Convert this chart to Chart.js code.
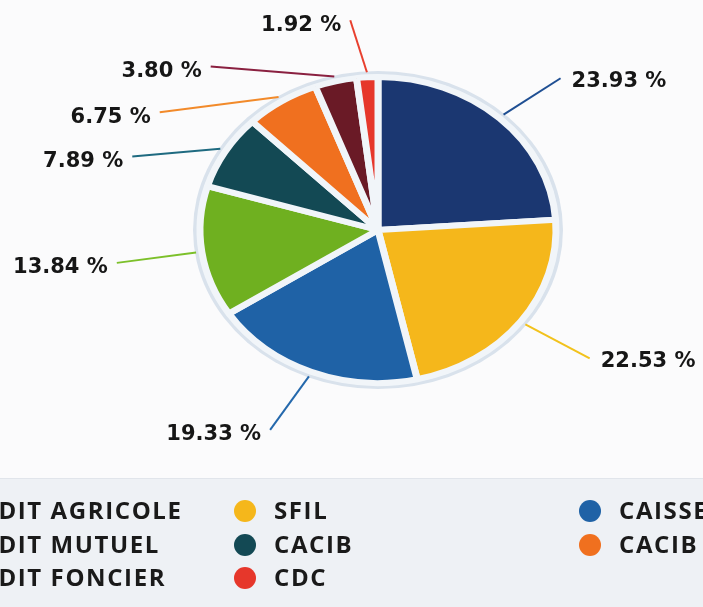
<!DOCTYPE html>
<html><head><meta charset="utf-8">
<script src="https://cdn.jsdelivr.net/npm/chart.js@4"></script>
<style>
html,body{margin:0;padding:0;background:#fbfbfc;}
#wrap{position:relative;width:703px;height:607px;overflow:hidden;background:#fbfbfc;}
#panel{position:absolute;left:0;top:478px;width:703px;height:129px;background:#eef1f5;border-top:1px solid #e1e5eb;}
canvas{position:absolute;left:0;top:0;}
.lg{position:absolute;font-family:"Open Sans";font-weight:700;font-size:24px;letter-spacing:1.6px;color:#1a1a1a;white-space:nowrap;line-height:1;}
.dot{position:absolute;width:22px;height:22px;border-radius:50%;}
</style></head><body>
<div id="wrap"><div id="panel"></div><canvas id="c" width="703" height="607"></canvas><div id="legend"></div></div>
<script>
// ---- data ----
const categories = ["CRÉDIT AGRICOLE", "SFIL", "CAISSE D'EPARGNE", "CRÉDIT MUTUEL", "CACIB", "CACIB", "CRÉDIT FONCIER", "CDC"];
const shares = [23.93, 22.53, 19.33, 13.84, 7.89, 6.75, 3.80, 1.92];
const valueLabels = shares.map(v => v.toFixed(2) + " %");

// ---- styles ----
const colors = ["#1b3771", "#f5b71b", "#1f62a6", "#6fb020", "#134954", "#f0701f", "#6a1a26", "#e6372b"];
const lineColors = ["#1f4f93", "#f2c21c", "#2468ac", "#7cc02a", "#1e6a80", "#f28a2a", "#8a2040", "#e8402f"];
// leader-line layout: offset of the label anchor from the slice edge, and text side
const labelLayout = [
  {dx: 61, dy: -40, side: "right"},
  {dx: 69, dy: 37, side: "right"},
  {dx: -41, dy: 58, side: "left"},
  {dx: -85, dy: 11, side: "left"},
  {dx: -93, dy: 5, side: "left"},
  {dx: -122, dy: 11, side: "left"},
  {dx: -125, dy: -15, side: "left"},
  {dx: -17, dy: -57, side: "left"}
];
const RADIUS = 153, STRETCH = 178 / 153;

const stretchPlugin = {
  id: "stretch",
  beforeDatasetsDraw(chart) {
    const arc = chart.getDatasetMeta(0).data[0];
    const p = arc.getProps(["x", "y", "outerRadius"], true);
    const ctx = chart.ctx;
    ctx.save();
    ctx.translate(p.x, p.y); ctx.scale(STRETCH, 1); ctx.translate(-p.x, -p.y);
    ctx.beginPath(); ctx.arc(p.x, p.y, p.outerRadius + 6, 0, Math.PI * 2);
    ctx.fillStyle = "#d9e2ec"; ctx.fill();
    ctx.beginPath(); ctx.arc(p.x, p.y, p.outerRadius + 2.5, 0, Math.PI * 2);
    ctx.fillStyle = "#edf2f7"; ctx.fill();
  },
  afterDatasetsDraw(chart) { chart.ctx.restore(); }
};

const labelPlugin = {
  id: "vlabels",
  afterDraw(chart) {
    const ctx = chart.ctx;
    chart.getDatasetMeta(0).data.forEach((arc, i) => {
      const p = arc.getProps(["x", "y", "startAngle", "endAngle", "outerRadius"], true);
      const a = (p.startAngle + p.endAngle) / 2;
      const L = labelLayout[i];
      const bx = p.x + Math.cos(a) * p.outerRadius * STRETCH;
      const by = p.y + Math.sin(a) * p.outerRadius;
      const gx = p.x + Math.cos(a) * (p.outerRadius + 5) * STRETCH;
      const gy = p.y + Math.sin(a) * (p.outerRadius + 5);
      const ex = bx + L.dx, ey = by + L.dy;
      ctx.save();
      ctx.strokeStyle = lineColors[i]; ctx.lineWidth = 2;
      ctx.beginPath(); ctx.moveTo(gx, gy); ctx.lineTo(ex, ey); ctx.stroke();
      ctx.font = "bold 21px 'DejaVu Sans'";
      ctx.fillStyle = "#161616";
      ctx.textBaseline = "middle";
      if (L.side === "right") { ctx.textAlign = "left"; ctx.fillText(valueLabels[i], ex + 11, ey + 3); }
      else { ctx.textAlign = "right"; ctx.fillText(valueLabels[i], ex - 9, ey + 5); }
      ctx.restore();
    });
  }
};

new Chart(document.getElementById("c"), {
  type: "pie",
  data: {
    labels: categories,
    datasets: [{
      data: shares,
      backgroundColor: colors,
      borderColor: "#f1f5f9",
      borderWidth: 6,
      clip: false
    }]
  },
  options: {
    responsive: false,
    animation: false,
    devicePixelRatio: 1,
    radius: RADIUS,
    layout: {padding: {left: 53, right: 0, top: 0, bottom: 147}},
    plugins: {legend: {display: false}, tooltip: {enabled: false}}
  },
  plugins: [stretchPlugin, labelPlugin]
});

// ---- HTML legend (3 columns, row-wise) ----
const colText = [-51, 274, 619];
const rowY = [511, 545, 578];
const lg = document.getElementById("legend");
categories.forEach((name, i) => {
  const col = i % 3, row = Math.floor(i / 3);
  const d = document.createElement("div");
  d.className = "dot";
  d.style.background = colors[i];
  d.style.left = (colText[col] - 29 - 11) + "px";
  d.style.top = (rowY[row] - 11) + "px";
  lg.appendChild(d);
  const t = document.createElement("div");
  t.className = "lg";
  t.textContent = name;
  t.style.left = colText[col] + "px";
  t.style.top = (rowY[row] - 13) + "px";
  lg.appendChild(t);
});
</script>
</body></html>
